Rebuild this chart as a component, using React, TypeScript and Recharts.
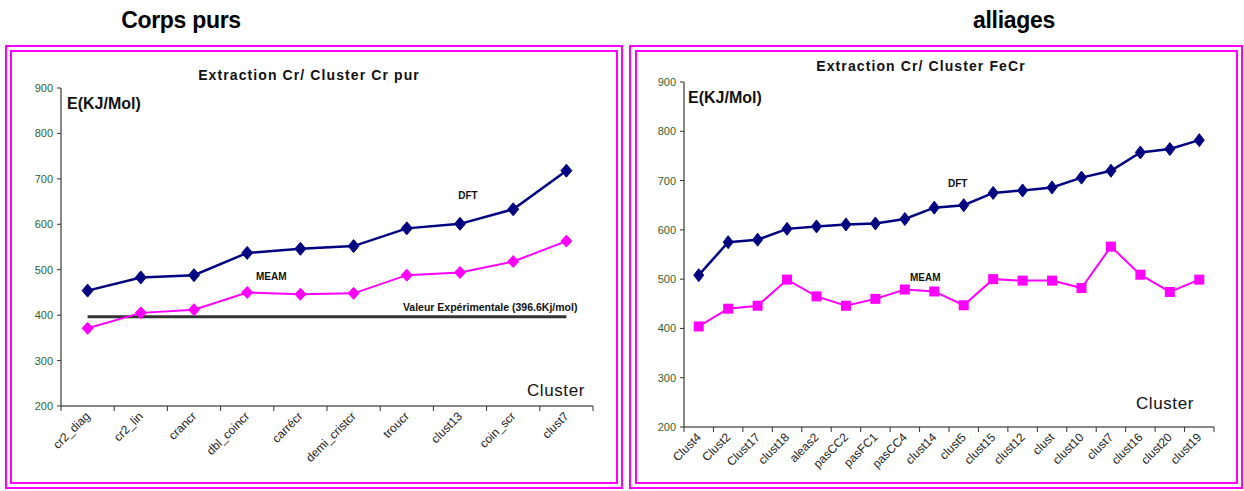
import React from 'react';
import { LineChart, Line, XAxis, YAxis, ReferenceDot } from 'recharts';

// ---------- data ----------
const leftCategories = ['cr2_diag', 'cr2_lin', 'crancr', 'dbl_coincr', 'carrécr', 'demi_cristcr', 'troucr', 'clust13', 'coin_scr', 'clust7'];
const leftDFT = [454, 483, 488, 537, 546, 552, 591, 601, 633, 718];
const leftMEAM = [371, 405, 412, 450, 446, 448, 488, 494, 518, 563];
const expValue = 396.6;

const rightCategories = ['Clust4', 'Clust2', 'Clust17', 'clust18', 'aleas2', 'pasCC2', 'pasFC1', 'pasCC4', 'clust14', 'clust5', 'clust15', 'clust12', 'clust', 'clust10', 'clust7', 'clust16', 'clust20', 'clust19'];
const rightDFT = [508, 575, 580, 602, 607, 611, 613, 622, 645, 650, 675, 680, 686, 706, 720, 757, 764, 782];
const rightMEAM = [404, 440, 446, 499, 465, 446, 460, 479, 475, 447, 500, 497, 497, 482, 566, 509, 474, 499];

const yTicks = [200, 300, 400, 500, 600, 700, 800, 900];
const yDomain = [200, 900];

const leftData = leftCategories.map((name, i) => ({ name, dft: leftDFT[i], meam: leftMEAM[i], exp: expValue }));
const rightData = rightCategories.map((name, i) => ({ name, dft: rightDFT[i], meam: rightMEAM[i] }));

const FONT = '"Liberation Sans", Arial, sans-serif';
const NAVY = '#000080';
const MAGENTA = '#ff00ff';
const BORDER = '#ff00ff';

// ---------- marks ----------
const makeDiamond = (color: string, hw: number, hh: number) => (props: any) => {
  const { cx, cy, key } = props;
  if (cx == null || cy == null) return <g key={key} />;
  return (
    <polygon
      key={key}
      points={`${cx},${cy - hh} ${cx + hw},${cy} ${cx},${cy + hh} ${cx - hw},${cy}`}
      fill={color}
      stroke={color}
      strokeWidth={1}
    />
  );
};
const makeSquare = (color: string, h: number) => (props: any) => {
  const { cx, cy, key } = props;
  if (cx == null || cy == null) return <g key={key} />;
  return <rect key={key} x={cx - h} y={cy - h} width={2 * h} height={2 * h} fill={color} />;
};

// ---------- ticks ----------
const XTick = (props: any) => {
  const { x, y, payload, index, visibleTicksCount } = props;
  const off = payload && payload.offset ? payload.offset : 0;
  const axisY = y - 7;
  const tx = x + 3;
  const ty = y + 4;
  return (
    <g>
      {off ? <line x1={x - off} x2={x - off} y1={axisY} y2={axisY + 5} stroke="#333" /> : null}
      {off && index === visibleTicksCount - 1 ? (
        <line x1={x + off} x2={x + off} y1={axisY} y2={axisY + 5} stroke="#333" />
      ) : null}
      <text
        x={tx}
        y={ty}
        transform={`rotate(-45 ${tx} ${ty})`}
        textAnchor="end"
        fontSize={12}
        fill="#222"
        fontFamily={FONT}
      >
        {payload.value}
      </text>
    </g>
  );
};

const YTick = (props: any) => {
  const { x, y, payload } = props;
  return (
    <text x={x} y={y + 4} textAnchor="end" fontSize={11} fill="#2f5f2f" fontFamily={FONT}>
      {payload.value}
    </text>
  );
};

const makeLabel = (text: string, dx: number, size: number, anchor: string = 'middle') => (props: any) => {
  const vb = props.viewBox || {};
  return (
    <text
      x={(vb.x || 0) + dx}
      y={(vb.y || 0) + size * 0.35}
      textAnchor={anchor}
      fontSize={size}
      fontWeight="bold"
      fill="#111"
      fontFamily={FONT}
    >
      {text}
    </text>
  );
};

const Frame = ({ left, top, width, height }: any) => (
  <div
    style={{
      position: 'absolute',
      left,
      top,
      width,
      height,
      boxSizing: 'border-box',
      border: `2px solid ${BORDER}`,
    }}
  />
);

export default function App() {
  return (
    <div
      style={{
        position: 'absolute',
        left: 0,
        top: 0,
        width: 1244,
        height: 491,
        background: '#fff',
        overflow: 'hidden',
        fontFamily: FONT,
      }}
    >
      <Frame left={5} top={45} width={618} height={444} />
      <Frame left={10} top={50} width={608} height={434} />
      <Frame left={629} top={45} width={614} height={444} />
      <Frame left={635} top={50} width={603} height={434} />

      {/* Left chart */}
      <div style={{ position: 'absolute', left: 0, top: 0 }}>
        <LineChart width={620} height={491} data={leftData} margin={{ top: 88, right: 27, left: 21, bottom: 25 }}>
          <XAxis
            xAxisId="top"
            orientation="top"
            dataKey="name"
            scale="band"
            height={0}
            tick={false}
            tickLine={false}
            axisLine={{ stroke: '#b8a8c0' }}
          />
          <YAxis
            yAxisId="r"
            orientation="right"
            width={0}
            domain={yDomain}
            ticks={yTicks}
            tick={false}
            tickLine={false}
            axisLine={{ stroke: '#999' }}
          />
          <XAxis
            dataKey="name"
            scale="band"
            height={60}
            interval={0}
            tickLine={false}
            tickSize={5}
            tickMargin={2}
            axisLine={{ stroke: '#111' }}
            tick={<XTick />}
          />
          <YAxis
            width={40}
            domain={yDomain}
            ticks={yTicks}
            interval={0}
            tickSize={4}
            tickMargin={4}
            tickLine={{ stroke: '#333' }}
            axisLine={{ stroke: '#111' }}
            tick={<YTick />}
          />
          <Line dataKey="exp" stroke="#333" strokeWidth={3} dot={false} isAnimationActive={false} />
          <Line dataKey="meam" stroke={MAGENTA} strokeWidth={2} dot={makeDiamond(MAGENTA, 5.5, 6)} isAnimationActive={false} />
          <Line dataKey="dft" stroke={NAVY} strokeWidth={2.5} dot={makeDiamond(NAVY, 5.5, 6.5)} isAnimationActive={false} />
          <ReferenceDot x="clust13" y={664} r={0} fill="none" stroke="none" label={makeLabel('DFT', 8, 10)} />
          <ReferenceDot x="dbl_coincr" y={484} r={0} fill="none" stroke="none" label={makeLabel('MEAM', 24, 10)} />
          <ReferenceDot
            x="clust7"
            y={418}
            r={0}
            fill="none"
            stroke="none"
            label={makeLabel('Valeur Expérimentale (396.6Kj/mol)', 11, 10.5, 'end')}
          />
        </LineChart>
      </div>

      {/* Right chart */}
      <div style={{ position: 'absolute', left: 620, top: 0 }}>
        <LineChart width={624} height={491} data={rightData} margin={{ top: 82, right: 30, left: 24, bottom: 14 }}>
          <XAxis
            xAxisId="top"
            orientation="top"
            dataKey="name"
            scale="band"
            height={0}
            tick={false}
            tickLine={false}
            axisLine={{ stroke: '#b8a8c0' }}
          />
          <YAxis
            yAxisId="r"
            orientation="right"
            width={0}
            domain={yDomain}
            ticks={yTicks}
            tick={false}
            tickLine={false}
            axisLine={{ stroke: '#999' }}
          />
          <XAxis
            dataKey="name"
            scale="band"
            height={50}
            interval={0}
            tickLine={false}
            tickSize={5}
            tickMargin={2}
            axisLine={{ stroke: '#111' }}
            tick={<XTick />}
          />
          <YAxis
            width={40}
            domain={yDomain}
            ticks={yTicks}
            interval={0}
            tickSize={4}
            tickMargin={4}
            tickLine={{ stroke: '#333' }}
            axisLine={{ stroke: '#111' }}
            tick={<YTick />}
          />
          <Line dataKey="meam" stroke={MAGENTA} strokeWidth={2} dot={makeSquare(MAGENTA, 5)} isAnimationActive={false} />
          <Line dataKey="dft" stroke={NAVY} strokeWidth={2.5} dot={makeDiamond(NAVY, 5, 6.5)} isAnimationActive={false} />
          <ReferenceDot x="clust5" y={694} r={0} fill="none" stroke="none" label={makeLabel('DFT', -6, 10)} />
          <ReferenceDot x="clust14" y={503} r={0} fill="none" stroke="none" label={makeLabel('MEAM', -9, 10)} />
        </LineChart>
      </div>

      {/* Text overlay */}
      <svg
        width={1244}
        height={491}
        style={{ position: 'absolute', left: 0, top: 0, pointerEvents: 'none' }}
        fontFamily={FONT}
      >
        <text x={181} y={28} textAnchor="middle" fontSize={23} fontWeight="bold" fill="#000" letterSpacing={-0.3}>
          Corps purs
        </text>
        <text x={1014} y={28} textAnchor="middle" fontSize={23} fontWeight="bold" fill="#000" letterSpacing={-0.3}>
          alliages
        </text>
        <text x={309} y={80} textAnchor="middle" fontSize={14} fontWeight="bold" fill="#111" letterSpacing={1.1}>
          Extraction Cr/ Cluster Cr pur
        </text>
        <text x={921} y={71} textAnchor="middle" fontSize={14} fontWeight="bold" fill="#111" letterSpacing={1.1}>
          Extraction Cr/ Cluster FeCr
        </text>
        <text x={67} y={109} fontSize={16} fontWeight="bold" fill="#111">
          E(KJ/Mol)
        </text>
        <text x={688} y={103} fontSize={16} fontWeight="bold" fill="#111">
          E(KJ/Mol)
        </text>
        <text x={585} y={396} textAnchor="end" fontSize={17} fill="#111" letterSpacing={0.6}>
          Cluster
        </text>
        <text x={1194} y={409} textAnchor="end" fontSize={17} fill="#111" letterSpacing={0.6}>
          Cluster
        </text>
      </svg>
    </div>
  );
}
